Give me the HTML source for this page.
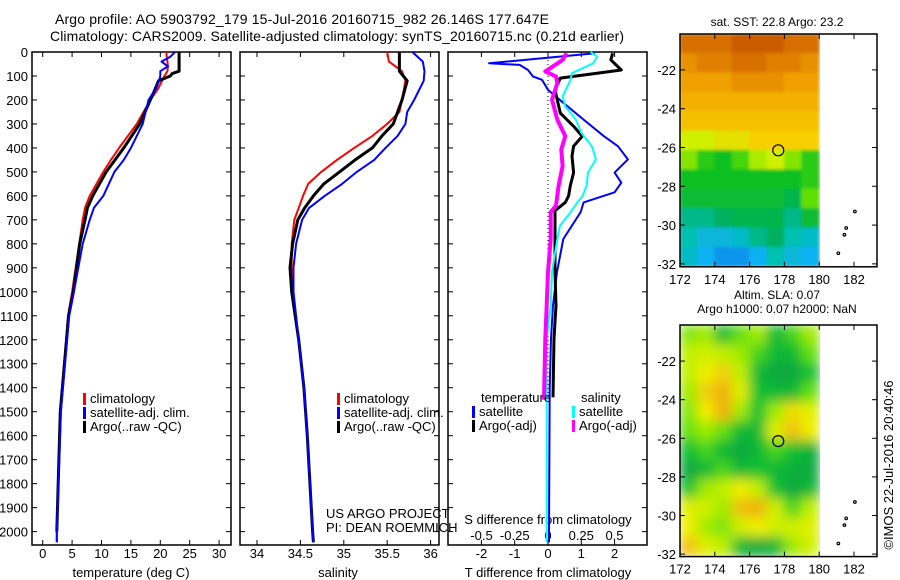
<!DOCTYPE html>
<html><head><meta charset="utf-8"><title>Argo profile</title>
<style>
html,body{margin:0;padding:0;background:#fff;}
svg{display:block;font-family:"Liberation Sans",sans-serif;}
</style></head>
<body>
<svg id="fig" width="900" height="580" viewBox="0 0 900 580" xmlns="http://www.w3.org/2000/svg">
<defs>
<filter id="blurS" x="0" y="0" width="1" height="1"><feGaussianBlur stdDeviation="1.5" edgeMode="duplicate"/></filter>
<filter id="blurA" x="0" y="0" width="1" height="1"><feGaussianBlur stdDeviation="6" edgeMode="duplicate"/></filter>
<clipPath id="clipS"><rect x="680" y="34" width="140" height="233"/></clipPath>
<clipPath id="clipA"><rect x="680" y="325" width="140" height="232"/></clipPath>
</defs>
<text x="55" y="24" font-size="14" textLength="494">Argo profile: AO 5903792_179 15-Jul-2016 20160715_982 26.146S 177.647E</text>
<text x="50" y="41" font-size="14" textLength="574">Climatology: CARS2009. Satellite-adjusted climatology: synTS_20160715.nc (0.21d earlier)</text>
<g id="g"></g>
</svg>
<script>
// ---------- data ----------
const tDepth = [0,20,40,60,80,100,120,150,200,300,400,450,500,600,650,700,800,1000,1100,1500,2000,2045];
const tClim  = [21.0,21.1,21.2,21.3,21.2,20.7,20.3,19.7,18.3,16.0,13.0,11.6,10.3,8.0,7.2,6.8,6.2,5.0,4.3,3.0,2.4,2.4];
const tSat   = [22.5,21.7,20.2,21.3,20.0,20.0,19.8,19.3,18.0,17.0,15.0,13.8,12.2,10.3,8.7,8.0,6.8,5.3,4.5,3.1,2.4,2.4];
const tArgoDepth = [0,80,90,100,120,150,200,300,400,450,500,600,650,700,800,1000,1100,1500,2000];
const tArgo  = [23.2,23.2,22.0,21.7,19.7,19.2,18.3,16.5,13.8,12.3,10.8,8.5,7.6,7.2,6.3,5.2,4.4,3.0,2.4];

const sDepth = [0,40,80,120,200,250,300,350,400,450,500,550,600,650,700,800,900,1000,1200,1400,1600,2000,2045];
const sClim  = [35.5,35.52,35.67,35.71,35.67,35.64,35.5,35.33,35.12,34.92,34.74,34.59,34.53,34.48,34.43,34.4,34.4,34.41,34.48,34.54,34.58,34.64,34.65];
const sArgo  = [35.64,35.64,35.64,35.73,35.67,35.62,35.57,35.44,35.33,35.13,34.95,34.77,34.65,34.55,34.47,34.41,34.38,34.4,34.48,34.54,34.58,34.64,34.65];
const sSat   = [35.79,35.91,35.93,35.92,35.81,35.73,35.71,35.62,35.48,35.35,35.15,34.98,34.78,34.6,34.52,34.45,34.42,34.42,34.48,34.54,34.58,34.64,34.65];

const dtSatDepth = [5,47,54,75,102,116,158,212,282,351,393,448,503,545,585,627,668,780,917,1057,1195,1400,2000,2045];
const dtSat      = [1.41,-1.77,-0.85,-0.6,-0.45,-0.18,0,0.46,1.07,1.68,2.1,2.4,2.0,2.2,2.0,1.07,0.98,0.46,0.27,0.15,0.09,0.05,0.03,0.03];
const dtArgoDepth = [5,33,75,109,158,255,310,351,393,434,503,558,600,627,662,780,917,1057,1195,1440];
const dtArgo      = [1.94,1.89,2.2,0.37,0.21,0.37,0.77,1.03,0.77,0.72,0.77,0.67,0.62,0.52,0.21,0.21,0.21,0.24,0.18,0.15];
const dsSatDepth = [0,19,47,88,116,185,227,282,337,393,448,503,558,600,627,668,724,780,917,1057,1195,1400,2000,2045];
const dsSat      = [0.32,0.37,0.34,0.18,0.17,0.11,0.13,0.21,0.25,0.33,0.36,0.3,0.29,0.26,0.22,0.17,0.09,0.07,0.03,0.02,-0.01,-0.01,-0.01,-0.01];
const dsArgoDepth = [5,33,81,102,130,199,282,351,406,476,558,641,668,780,917,1057,1195,1450];
const dsArgo      = [0.14,0.11,-0.02,0.06,0.07,0.03,0.07,0.13,0.1,0.11,0.08,0.06,0.02,0.02,0,-0.01,-0.02,-0.03];

const depthTicks = [0,100,200,300,400,500,600,700,800,900,1000,1100,1200,1300,1400,1500,1600,1700,1800,1900,2000];
const tTicks = [0,5,10,15,20,25,30];
const sTicks = [34,34.5,35,35.5,36];
const dtTicks = [-2,-1,0,1,2];
const dsTicks = [-0.5,-0.25,0,0.25,0.5];
const dsTickLabels = ['-0.5','-0.25','0','0.25','0.5'];

// SST grid: rows lat -20.15..-32.15 (1 deg), cols lon 172..180
const sstGrid = [
 [24.3,24.3,24.3,24.4,24.4,24.4,24.3,24.3],
 [24.1,24.2,24.2,24.3,24.3,24.2,24.2,24.1],
 [24.0,24.0,24.0,24.1,24.1,24.1,24.0,24.0],
 [23.9,23.9,23.9,23.9,23.9,23.9,23.9,23.9],
 [23.8,23.8,23.8,23.8,23.8,23.8,23.8,23.8],
 [23.5,23.5,23.6,23.6,23.7,23.7,23.7,23.7],
 [23.3,23.0,22.9,23.1,23.4,23.5,23.3,23.0],
 [22.9,22.9,22.9,22.9,22.9,22.9,22.9,23.0],
 [22.8,22.8,22.8,22.8,22.8,22.8,22.7,23.2],
 [22.5,22.5,22.6,22.7,22.7,22.7,22.5,22.8],
 [22.4,22.2,22.2,22.3,22.5,22.6,22.4,22.3],
 [22.3,22.1,22.0,22.0,22.1,22.4,22.2,22.1]
];
const slaGrid = [
 [.07,.08,.02,.06,.08,.02,.05,.08],
 [.09,.10,.09,.08,.05,.02,.02,.06],
 [.09,.12,.14,.09,.02,.00,-.01,.03],
 [.08,.14,.17,.11,.03,.02,.02,.06],
 [.07,.12,.16,.08,.03,.08,.13,.11],
 [.06,.08,.06,.02,.02,.11,.15,.12],
 [.03,.05,.02,.00,.02,.05,.03,.01],
 [-.01,.02,.05,.02,.03,.02,.01,-.01],
 [.03,.08,.09,.12,.09,.03,-.01,.02],
 [.11,.10,.08,.15,.16,.10,.05,.09],
 [.12,.08,.07,.10,.12,.10,.10,.11],
 [.15,.11,.09,.02,.00,.02,.08,.10]
];
const argoLon = 177.647, argoLat = -26.146;
const islandLon = [182.05,181.55,181.45,181.1];
const islandLat = [-29.3,-30.15,-30.5,-31.45];
const latTicks = [-22,-24,-26,-28,-30,-32];
const lonTicks = [172,174,176,178,180,182];

// ---------- helpers ----------
const NS='http://www.w3.org/2000/svg';
const G=document.getElementById('g');
function el(tag,attrs,parent){const e=document.createElementNS(NS,tag);for(const k in attrs)e.setAttribute(k,attrs[k]);(parent||G).appendChild(e);return e;}
function txt(x,y,s,size,anchor,parent){const e=el('text',{x:x,y:y,'font-size':size||13,'text-anchor':anchor||'start'},parent);e.textContent=s;return e;}
const top0=52, bot=545, dScale=0.2398;
const yD=d=>top0+d*dScale;
const xT=v=>42.7+v*5.88;
const xS=v=>257+(v-34)*86.8;
const xDT=v=>548+v*33.3;
const xDS=v=>548+v*133;

function frame(x0,x1,name){
  const r=el('rect',{x:x0,y:top0,width:x1-x0,height:bot-top0,fill:'none',stroke:'#000','stroke-width':1.5});
  
  
  depthTicks.forEach(d=>{const y=yD(d);el('line',{x1:x0,y1:y,x2:x0+5,y2:y,stroke:'#000'});el('line',{x1:x1,y1:y,x2:x1-5,y2:y,stroke:'#000'});});
}
function line(xs,ds,xf,color,w,name){
  const pts=xs.map((v,i)=>xf(v).toFixed(1)+','+yD(ds[i]).toFixed(1)).join(' ');
  const p=el('polyline',{points:pts,fill:'none',stroke:color,'stroke-width':w,'stroke-linejoin':'round'});
  
  
}
function xticks(x0,x1,vals,xf,labels,ly){
  vals.forEach((v,i)=>{const x=xf(v);el('line',{x1:x,y1:bot,x2:x,y2:bot-5,stroke:'#000'});el('line',{x1:x,y1:top0,x2:x,y2:top0+5,stroke:'#000'});
    if(labels){const t=txt(x,ly,labels[i],13,'middle');}});
}
function legendEntry(x,y,color,label){
  const g=el('g',{});
  
  
  el('rect',{x:x,y:y-10,width:3,height:12,fill:color},g);
  txt(x+7,y,label,13,'start',g);
}

// ---------- panel 1: temperature ----------
frame(32,231,'temperature-panel');
depthTicks.forEach(d=>{const t=txt(28,yD(d)+5,String(d),13,'end');});
xticks(32,231,tTicks,xT,tTicks.map(String),558);
const tx=txt(131,577,'temperature (deg C)',13,'middle');
line(tClim,tDepth,xT,'#ff0000',2,'temp-climatology-line');
line(tArgo,tArgoDepth,xT,'#000',3,'temp-argo-line');
line(tSat,tDepth,xT,'#0000ff',2,'temp-satellite-line');
legendEntry(83,403,'#ff0000','climatology');
legendEntry(83,417,'#0000ff','satellite-adj. clim.');
legendEntry(83,431,'#000','Argo(..raw -QC)');

// ---------- panel 2: salinity ----------
frame(240,439,'salinity-panel');
xticks(240,439,sTicks,xS,sTicks.map(String),558);
const sx=txt(338,577,'salinity',13,'middle');
line(sClim,sDepth,xS,'#ff0000',2,'sal-climatology-line');
line(sArgo,sDepth,xS,'#000',3,'sal-argo-line');
line(sSat,sDepth,xS,'#0000ff',2,'sal-satellite-line');
legendEntry(337,403,'#ff0000','climatology');
legendEntry(337,417,'#0000ff','satellite-adj. clim.');
legendEntry(337,431,'#000','Argo(..raw -QC)');
txt(326,518,'US ARGO PROJECT',13);
txt(326,532,'PI: DEAN ROEMMICH',13);

// ---------- panel 3: differences ----------
frame(448,647,'difference-panel');
xticks(448,647,dtTicks,xDT,dtTicks.map(String),558);
dsTicks.forEach((v,i)=>{const t=txt(xDS(v),540,dsTickLabels[i],13,'middle');});
txt(548,524,'S difference from climatology',13,'middle');
txt(548,577,'T difference from climatology',13,'middle');
el('line',{x1:xDT(0),y1:top0,x2:xDT(0),y2:yD(1450),stroke:'#000','stroke-dasharray':'1,3'});
line(dtSat,dtSatDepth,xDT,'#0000ff',2,'tdiff-satellite-line');
line(dtArgo,dtArgoDepth,xDT,'#000',3,'tdiff-argo-line');
line(dsSat,dsSatDepth,xDS,'#00ffff',2,'sdiff-satellite-line');
line(dsArgo,dsArgoDepth,xDS,'#ff00ff',4,'sdiff-argo-line');
txt(481,402,'temperature',13);
txt(581,402,'salinity',13);
legendEntry(472,416,'#0000ff','satellite');
legendEntry(472,430,'#000','Argo(-adj)');
legendEntry(572,416,'#00ffff','satellite');
legendEntry(572,430,'#ff00ff','Argo(-adj)');

// ---------- maps ----------
const sstStops=[[21.8,[16,96,224]],[22.1,[16,176,240]],[22.4,[0,192,176]],[22.6,[0,176,96]],[22.9,[16,192,32]],[23.2,[96,224,0]],[23.5,[208,240,0]],[23.7,[248,208,0]],[24.0,[240,160,0]],[24.3,[216,112,0]],[24.6,[176,48,0]]];
const slaStops=[[0.0,[16,168,64]],[0.03,[16,192,48]],[0.06,[96,224,16]],[0.09,[192,240,0]],[0.12,[240,240,0]],[0.16,[240,176,16]]];
function cmap(v,stops){
  if(v<=stops[0][0])return stops[0][1];
  for(let i=1;i<stops.length;i++){if(v<=stops[i][0]){const a=stops[i-1],b=stops[i],f=(v-a[0])/(b[0]-a[0]);return a[1].map((c,k)=>Math.round(c+(b[1][k]-c)*f));}}
  return stops[stops.length-1][1];
}
const lonX=lon=>680+(lon-172)*17.4;
function drawMap(grid,stops,y0,yTopLat,latScale,clip,filt,name,title1,title2){
  const latY=lat=>y0+(yTopLat-lat)*latScale;
  const g=el('g',{'clip-path':'url(#'+clip+')'});
  
  
  const inner=el('g',{filter:'url(#'+filt+')'},g);
  grid.forEach((row,r)=>row.forEach((v,c)=>{
    const c3=cmap(v,stops);
    const cell=el('rect',{x:lonX(172+c)-0.5,y:latY(yTopLat-r)-0.5,width:17.4+1,height:latScale+1,fill:'rgb('+c3.join(',')+')'},inner);
    
    
  }));
  const yb=latY(yTopLat-12);
  const fr=el('rect',{x:680,y:y0,width:197,height:yb-y0,fill:'none',stroke:'#000','stroke-width':1.5});
  
  
  latTicks.forEach(l=>{const y=latY(l);el('line',{x1:680,y1:y,x2:685,y2:y,stroke:'#000'});el('line',{x1:877,y1:y,x2:872,y2:y,stroke:'#000'});
    txt(676,y+5,String(l),13,'end');});
  lonTicks.forEach(l=>{const x=lonX(l);el('line',{x1:x,y1:yb,x2:x,y2:yb-5,stroke:'#000'});el('line',{x1:x,y1:y0,x2:x,y2:y0+5,stroke:'#000'});
    txt(x,yb+17,String(l),13,'middle');});
  islandLon.forEach((lo,i)=>{const d=el('circle',{cx:lonX(lo),cy:latY(islandLat[i]),r:1.3,fill:'none',stroke:'#000','stroke-width':1.2});});
  const c=el('circle',{cx:lonX(argoLon),cy:latY(argoLat),r:5.5,fill:'none',stroke:'#000','stroke-width':1.2});
  
  
  if(title2){txt(777,y0-26,title1,12,'middle');txt(777,y0-12,title2,12,'middle');}
  else txt(777,y0-8,title1,12,'middle');
}
drawMap(sstGrid,sstStops,34,-20.15,19.4,'clipS','blurS','sst-map','sat. SST: 22.8 Argo: 23.2');
drawMap(slaGrid,slaStops,325,-20.13,19.3,'clipA','blurA','sla-map','Altim. SLA: 0.07','Argo h1000: 0.07 h2000: NaN');
const cr=txt(0,0,'©IMOS 22-Jul-2016 20:40:46',13,'middle');
cr.setAttribute('transform','translate(893,465) rotate(-90)');


</script>
</body></html>
